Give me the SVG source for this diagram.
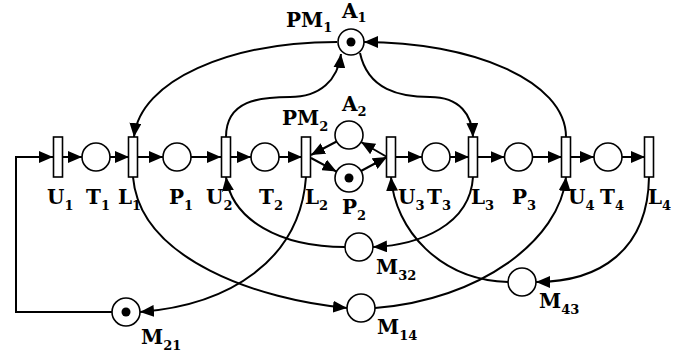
<svg xmlns="http://www.w3.org/2000/svg" width="682" height="354" viewBox="0 0 682 354">
<style>
.p{fill:#fff;stroke:#000;stroke-width:1.6}
.t{fill:#fff;stroke:#000;stroke-width:1.6}
.tok{fill:#000}
.c{fill:none;stroke:#000;stroke-width:2;marker-end:url(#ah)}
text{font-family:"DejaVu Serif","Liberation Serif",serif;font-weight:bold;font-size:20px;fill:#000}
.s{font-size:13px}
</style>
<defs>
<marker id="ah" markerUnits="userSpaceOnUse" markerWidth="15" markerHeight="12" refX="14" refY="6" orient="auto">
<path d="M0,0 L14,6 L0,12 Z" fill="#000"/>
</marker>
</defs>
<rect width="682" height="354" fill="#fff"/>
<g id="connectors">
<path class="c" d="M112,312 H16 V157 H53"/>
<path class="c" d="M62,157 H82"/>
<path class="c" d="M110,157 H129"/>
<path class="c" d="M138,157 H163"/>
<path class="c" d="M191,157 H221"/>
<path class="c" d="M230,157 H251"/>
<path class="c" d="M279,157 H302"/>
<path class="c" d="M311,158 L336.5,171.6"/>
<path class="c" d="M336.6,141.5 L311,155"/>
<path class="c" d="M361,171 L387,157"/>
<path class="c" d="M387,157 L361,142"/>
<path class="c" d="M396,157 H422"/>
<path class="c" d="M450,157 H469"/>
<path class="c" d="M478,157 H504.5"/>
<path class="c" d="M532.5,157 H562"/>
<path class="c" d="M571,157 H594"/>
<path class="c" d="M622,157 H645"/>
<path class="c" d="M337,42 C230,42 140,80 134,137"/>
<path class="c" d="M226,137 C226,100 260,97 290,97 C320,97 338,80 341,54"/>
<path class="c" d="M360,53 C368,90 400,97 430,97 C460,97 472,115 473,137"/>
<path class="c" d="M566,137 C566,80 470,42 364,42"/>
<path class="c" d="M133,177 C140,260 260,300 347,308"/>
<path class="c" d="M306,177 C300,260 230,305 140,312"/>
<path class="c" d="M345,247 C280,247 232,220 226,177"/>
<path class="c" d="M473,177 C470,225 420,245 373,247"/>
<path class="c" d="M508,282 C440,280 395,230 391,177"/>
<path class="c" d="M375,308 C480,300 560,240 566,177"/>
<path class="c" d="M649,177 C648,250 600,282 536,282"/>
</g>
<g id="U1"><rect class="t" x="53.5" y="137" width="9" height="40"/><text x="47" y="204">U<tspan class="s" dy="6">1</tspan></text></g>
<g id="T1"><circle class="p" cx="96" cy="157" r="14"/><text x="86" y="204">T<tspan class="s" dy="6">1</tspan></text></g>
<g id="L1"><rect class="t" x="128.5" y="137" width="9" height="40"/><text x="118" y="204">L<tspan class="s" dy="6">1</tspan></text></g>
<g id="P1"><circle class="p" cx="177" cy="157" r="14"/><text x="169" y="204">P<tspan class="s" dy="6">1</tspan></text></g>
<g id="U2"><rect class="t" x="221.5" y="137" width="9" height="40"/><text x="206" y="204">U<tspan class="s" dy="6">2</tspan></text></g>
<g id="T2"><circle class="p" cx="265" cy="157" r="14"/><text x="259" y="204">T<tspan class="s" dy="6">2</tspan></text></g>
<g id="L2"><rect class="t" x="301.5" y="137" width="9" height="40"/><text x="305" y="204">L<tspan class="s" dy="6">2</tspan></text></g>
<g id="PM2"><text x="282" y="125">PM<tspan class="s" dy="6">2</tspan></text></g>
<g id="A2"><circle class="p" cx="349" cy="135" r="14"/><text x="342" y="111">A<tspan class="s" dy="5">2</tspan></text></g>
<g id="P2"><circle class="p" cx="349" cy="178" r="14"/><circle class="tok" cx="349" cy="178" r="4.5"/><text x="342" y="214">P<tspan class="s" dy="6">2</tspan></text></g>
<g id="U3"><rect class="t" x="386.5" y="137" width="9" height="40"/><text x="398" y="204">U<tspan class="s" dy="6">3</tspan></text></g>
<g id="T3"><circle class="p" cx="436" cy="157" r="14"/><text x="427" y="204">T<tspan class="s" dy="6">3</tspan></text></g>
<g id="L3"><rect class="t" x="468.5" y="137" width="9" height="40"/><text x="471" y="204">L<tspan class="s" dy="6">3</tspan></text></g>
<g id="P3"><circle class="p" cx="518.5" cy="157" r="14"/><text x="512" y="204">P<tspan class="s" dy="6">3</tspan></text></g>
<g id="U4"><rect class="t" x="561.5" y="137" width="9" height="40"/><text x="568" y="204">U<tspan class="s" dy="6">4</tspan></text></g>
<g id="T4"><circle class="p" cx="608" cy="157" r="14"/><text x="600" y="204">T<tspan class="s" dy="6">4</tspan></text></g>
<g id="L4"><rect class="t" x="644.5" y="137" width="9" height="40"/><text x="648" y="204">L<tspan class="s" dy="6">4</tspan></text></g>
<g id="PM1"><text x="286" y="27">PM<tspan class="s" dy="5">1</tspan></text></g>
<g id="A1"><circle class="p" cx="351" cy="42" r="13"/><circle class="tok" cx="351" cy="42" r="4.5"/><text x="342" y="18">A<tspan class="s" dy="4">1</tspan></text></g>
<g id="M32"><circle class="p" cx="359" cy="247" r="14"/><text x="376" y="274">M<tspan class="s" dy="6">32</tspan></text></g>
<g id="M43"><circle class="p" cx="522" cy="282" r="14"/><text x="539" y="308">M<tspan class="s" dy="6">43</tspan></text></g>
<g id="M14"><circle class="p" cx="361" cy="308" r="14"/><text x="377" y="334">M<tspan class="s" dy="6">14</tspan></text></g>
<g id="M21"><circle class="p" cx="126" cy="312" r="14"/><circle class="tok" cx="126" cy="312" r="4.5"/><text x="141" y="344">M<tspan class="s" dy="6">21</tspan></text></g>
</svg>
